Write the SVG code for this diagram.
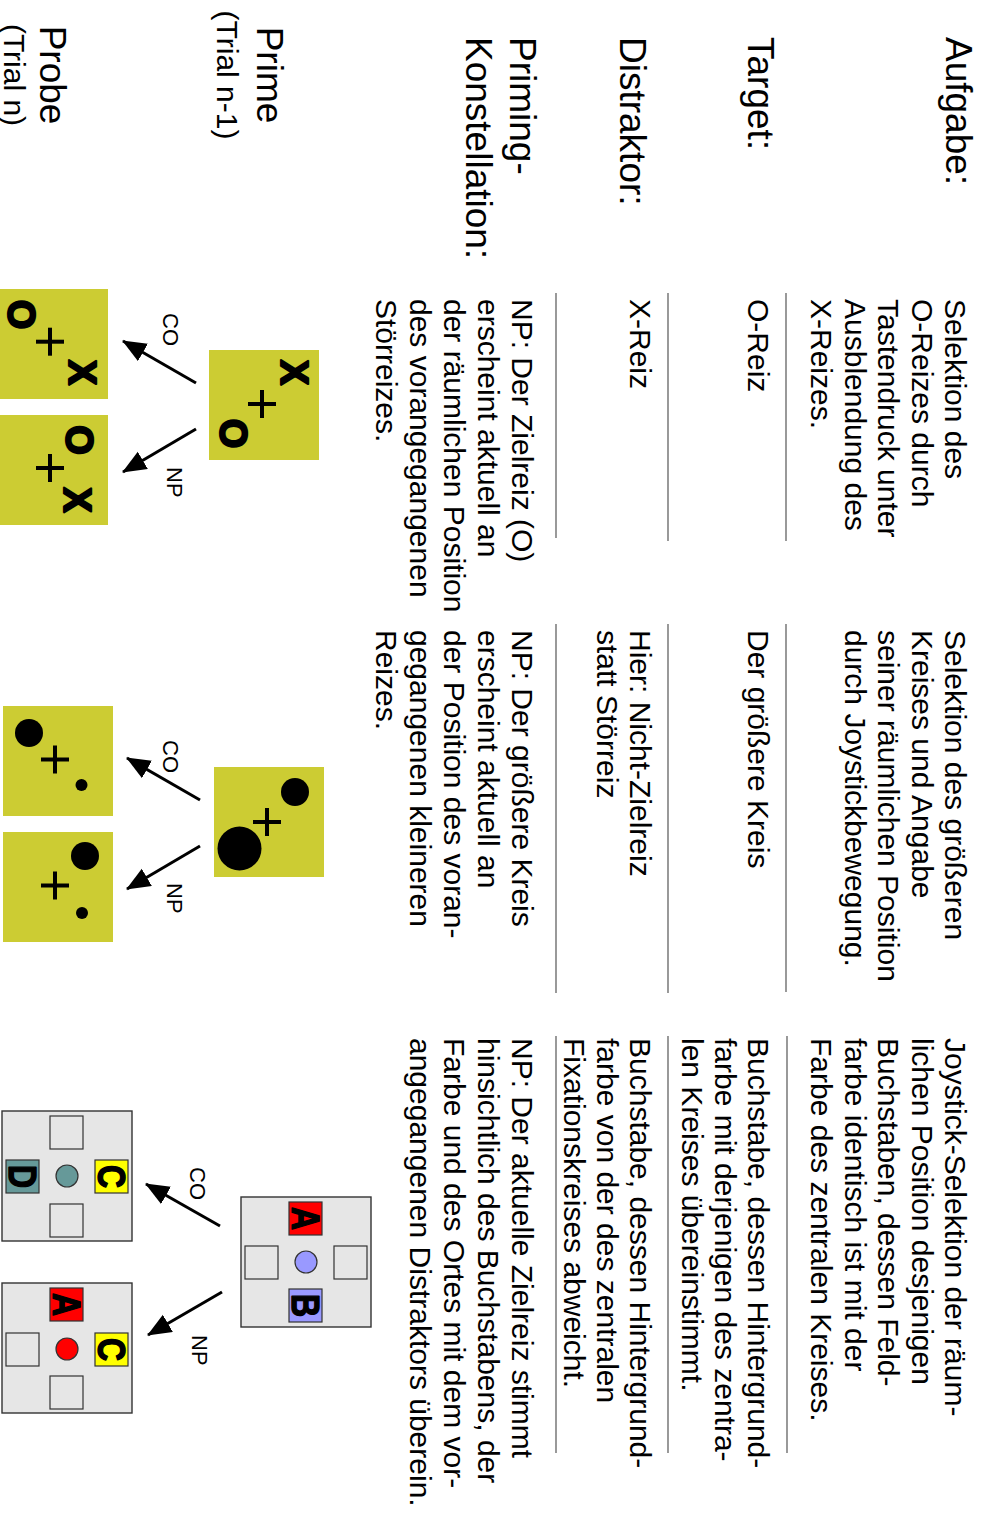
<svg xmlns="http://www.w3.org/2000/svg" width="985" height="1520" viewBox="0 0 985 1520">
  <defs>
    <style>
      text { font-family: "Liberation Sans", Arial, sans-serif; fill: #000; }
      .hd { font-size: 37px; }
      .bd { font-size: 30px; }
      .sub { font-size: 30px; text-anchor: middle; }
      .lbl { font-size: 22px; }
      .sym { font-size: 38px; font-weight: bold; text-anchor: middle; stroke: #000; stroke-width: 2.2; stroke-linejoin: round; }
      .ltr { font-size: 32px; font-weight: bold; text-anchor: middle; stroke: #000; stroke-width: 1.2; stroke-linejoin: round; }
      .rule { stroke: #808080; stroke-width: 1.6; }
      .olive { fill: #cccc33; }
      .panel { fill: #e6e6e6; stroke: #333; stroke-width: 1.4; }
      .cell { fill: #e6e6e6; stroke: #333; stroke-width: 1.2; }
      .plus { stroke: #000; stroke-width: 4; }
      .arrow { stroke: #000; stroke-width: 3; fill: none; marker-end: url(#head); }
    </style>
    <marker id="head" markerUnits="userSpaceOnUse" markerWidth="25" markerHeight="21" refX="23" refY="10" orient="auto">
      <path d="M0,0 L24,10 L0,20 z" fill="#000"/>
    </marker>
    <!-- fixation cross, centred on the origin -->
    <g id="cross">
      <line class="plus" x1="-14" y1="0" x2="14" y2="0"/>
      <line class="plus" x1="0" y1="-14" x2="0" y2="14"/>
    </g>
  </defs>

  <!-- the whole sheet is laid out landscape and turned a quarter turn clockwise -->
  <g transform="translate(985,0) rotate(90)">

    <!-- row headings -->
    <g id="row-labels">
      <text class="hd" x="37" y="39">Aufgabe:</text>
      <text class="hd" x="37" y="237">Target:</text>
      <text class="hd" x="37" y="365">Distraktor:</text>
      <text class="hd" x="37" y="475">Priming-</text>
      <text class="hd" x="37" y="519">Konstellation:</text>
      <text class="hd" x="75" y="728" text-anchor="middle">Prime</text>
      <text class="sub" x="75" y="768">(Trial n-1)</text>
      <text class="hd" x="75" y="945" text-anchor="middle">Probe</text>
      <text class="sub" x="75" y="981">(Trial n)</text>
    </g>

    <!-- separator rules between rows -->
    <g id="rules">
      <line class="rule" x1="293" y1="199" x2="541" y2="199"/>
      <line class="rule" x1="293" y1="317" x2="541" y2="317"/>
      <line class="rule" x1="293" y1="429" x2="538" y2="429"/>
      <line class="rule" x1="624" y1="199" x2="992" y2="199"/>
      <line class="rule" x1="624" y1="317" x2="993" y2="317"/>
      <line class="rule" x1="624" y1="429" x2="993" y2="429"/>
      <line class="rule" x1="1036" y1="198" x2="1453" y2="198"/>
      <line class="rule" x1="1036" y1="317" x2="1453" y2="317"/>
      <line class="rule" x1="1036" y1="429" x2="1453" y2="429"/>
    </g>

    <!-- column: X/O task -->
    <g id="col-xo">
      <text class="bd" x="299" y="40">Selektion des</text>
      <text class="bd" x="299" y="73.5">O-Reizes durch</text>
      <text class="bd" x="299" y="107">Tastendruck unter</text>
      <text class="bd" x="299" y="140.5">Ausblendung des</text>
      <text class="bd" x="299" y="174">X-Reizes.</text>
      <text class="bd" x="299" y="237">O-Reiz</text>
      <text class="bd" x="299" y="355">X-Reiz</text>
      <text class="bd" x="299" y="473">NP: Der Zielreiz (O)</text>
      <text class="bd" x="299" y="507">erscheint aktuell an</text>
      <text class="bd" x="299" y="541">der räumlichen Position</text>
      <text class="bd" x="299" y="575">des vorangegangenen</text>
      <text class="bd" x="299" y="609">Störreizes.</text>
    </g>

    <!-- column: circle size task -->
    <g id="col-circles">
      <text class="bd" x="630" y="40">Selektion des größeren</text>
      <text class="bd" x="630" y="73.5">Kreises und Angabe</text>
      <text class="bd" x="630" y="107">seiner räumlichen Position</text>
      <text class="bd" x="630" y="140.5">durch Joystickbewegung.</text>
      <text class="bd" x="630" y="237">Der größere Kreis</text>
      <text class="bd" x="630" y="355">Hier: Nicht-Zielreiz</text>
      <text class="bd" x="630" y="388.5">statt Störreiz</text>
      <text class="bd" x="630" y="473">NP: Der größere Kreis</text>
      <text class="bd" x="630" y="507">erscheint aktuell an</text>
      <text class="bd" x="630" y="541">der Position des voran-</text>
      <text class="bd" x="630" y="575">gegangenen kleineren</text>
      <text class="bd" x="630" y="609">Reizes.</text>
    </g>

    <!-- column: letter / colour task -->
    <g id="col-letters">
      <text class="bd" x="1038" y="40">Joystick-Selektion der räum-</text>
      <text class="bd" x="1038" y="73.5">lichen Position desjenigen</text>
      <text class="bd" x="1038" y="107">Buchstaben, dessen Feld-</text>
      <text class="bd" x="1038" y="140.5">farbe identisch ist mit der</text>
      <text class="bd" x="1038" y="174">Farbe des zentralen Kreises.</text>
      <text class="bd" x="1038" y="237">Buchstabe, dessen Hintergrund-</text>
      <text class="bd" x="1038" y="270">farbe mit derjenigen des zentra-</text>
      <text class="bd" x="1038" y="303">len Kreises übereinstimmt.</text>
      <text class="bd" x="1038" y="355">Buchstabe, dessen Hintergrund-</text>
      <text class="bd" x="1038" y="388">farbe von der des zentralen</text>
      <text class="bd" x="1038" y="421">Fixationskreises abweicht.</text>
      <text class="bd" x="1038" y="473">NP: Der aktuelle Zielreiz stimmt</text>
      <text class="bd" x="1038" y="507">hinsichtlich des Buchstabens, der</text>
      <text class="bd" x="1038" y="541">Farbe und des Ortes mit dem vor-</text>
      <text class="bd" x="1038" y="575">angegangenen Distraktors überein.</text>
    </g>

    <!-- X/O stimuli -->
    <g id="xo-prime">
      <rect class="olive" x="350" y="666" width="110" height="110"/>
      <text class="sym" x="372.5" y="703.6">X</text>
      <use href="#cross" x="404" y="723"/>
      <text class="sym" x="433.5" y="764.6">O</text>
    </g>
    <g id="xo-probe-co">
      <rect class="olive" x="289" y="877" width="110" height="110"/>
      <text class="sym" x="314.5" y="976.6">O</text>
      <use href="#cross" x="341.7" y="935"/>
      <text class="sym" x="372.5" y="916">X</text>
    </g>
    <g id="xo-probe-np">
      <rect class="olive" x="415" y="877" width="110" height="110"/>
      <text class="sym" x="440" y="918.6">O</text>
      <use href="#cross" x="468" y="935"/>
      <text class="sym" x="500" y="921">X</text>
    </g>

    <!-- circle stimuli -->
    <g id="circle-prime">
      <rect class="olive" x="767" y="661" width="110" height="110"/>
      <circle cx="792" cy="690" r="14" fill="#000"/>
      <use href="#cross" x="822" y="718"/>
      <circle cx="848.5" cy="745.5" r="22" fill="#000"/>
    </g>
    <g id="circle-probe-co">
      <rect class="olive" x="706" y="872" width="110" height="110"/>
      <circle cx="733" cy="956" r="14" fill="#000"/>
      <use href="#cross" x="759.5" y="930"/>
      <circle cx="785" cy="903.5" r="6" fill="#000"/>
    </g>
    <g id="circle-probe-np">
      <rect class="olive" x="832" y="872" width="110" height="110"/>
      <circle cx="856" cy="900" r="14" fill="#000"/>
      <use href="#cross" x="885.5" y="930"/>
      <circle cx="913" cy="903" r="6" fill="#000"/>
    </g>

    <!-- letter/colour stimuli -->
    <g id="letter-prime">
      <rect class="panel" x="1197" y="614" width="130" height="130"/>
      <rect class="cell" x="1246" y="618" width="33" height="33"/>
      <rect class="cell" x="1246" y="707" width="33" height="33"/>
      <rect class="cell" x="1202" y="663" width="33" height="33" style="fill:#ff0000"/>
      <text class="ltr" transform="translate(1218.5,679.5) scale(1,1.2)" x="0" y="11.5">A</text>
      <rect class="cell" x="1289" y="663" width="33" height="33" style="fill:#9999ff"/>
      <text class="ltr" transform="translate(1305.5,679.5) scale(1,1.2)" x="0" y="11.5">B</text>
      <circle cx="1262" cy="679" r="11" fill="#9999ff" stroke="#333" stroke-width="1.2"/>
    </g>
    <g id="letter-probe-co">
      <rect class="panel" x="1111" y="853" width="130" height="130"/>
      <rect class="cell" x="1116" y="902" width="33" height="33"/>
      <rect class="cell" x="1204" y="902" width="33" height="33"/>
      <rect class="cell" x="1160" y="857" width="33" height="33" style="fill:#ffff00"/>
      <text class="ltr" transform="translate(1176.5,873.5) scale(1,1.2)" x="0" y="11.5">C</text>
      <rect class="cell" x="1160" y="946" width="33" height="33" style="fill:#669999"/>
      <text class="ltr" transform="translate(1176.5,962.5) scale(1,1.2)" x="0" y="11.5">D</text>
      <circle cx="1176" cy="918" r="11" fill="#669999" stroke="#333" stroke-width="1.2"/>
    </g>
    <g id="letter-probe-np">
      <rect class="panel" x="1283" y="853" width="130" height="130"/>
      <rect class="cell" x="1288" y="902" width="33" height="33" style="fill:#ff0000"/>
      <text class="ltr" transform="translate(1304.5,918.5) scale(1,1.2)" x="0" y="11.5">A</text>
      <rect class="cell" x="1376" y="902" width="33" height="33"/>
      <rect class="cell" x="1333" y="857" width="33" height="33" style="fill:#ffff00"/>
      <text class="ltr" transform="translate(1349.5,873.5) scale(1,1.2)" x="0" y="11.5">C</text>
      <rect class="cell" x="1333" y="946" width="33" height="33"/>
      <circle cx="1349" cy="918" r="11" fill="#ff0000" stroke="#333" stroke-width="1.2"/>
    </g>

    <!-- prime-to-probe transitions -->
    <g id="connectors">
      <line class="arrow" x1="383" y1="789" x2="341" y2="862"/>
      <line class="arrow" x1="429" y1="789" x2="472" y2="862"/>
      <text class="lbl" x="313" y="822">CO</text>
      <text class="lbl" x="467" y="818">NP</text>

      <line class="arrow" x1="800" y1="785" x2="758" y2="858"/>
      <line class="arrow" x1="846" y1="785" x2="889" y2="858"/>
      <text class="lbl" x="740" y="822">CO</text>
      <text class="lbl" x="883" y="818">NP</text>

      <line class="arrow" x1="1226" y1="765" x2="1184" y2="839"/>
      <line class="arrow" x1="1292" y1="763" x2="1335" y2="837"/>
      <text class="lbl" x="1167" y="795">CO</text>
      <text class="lbl" x="1335" y="793">NP</text>
    </g>
  </g>
</svg>
